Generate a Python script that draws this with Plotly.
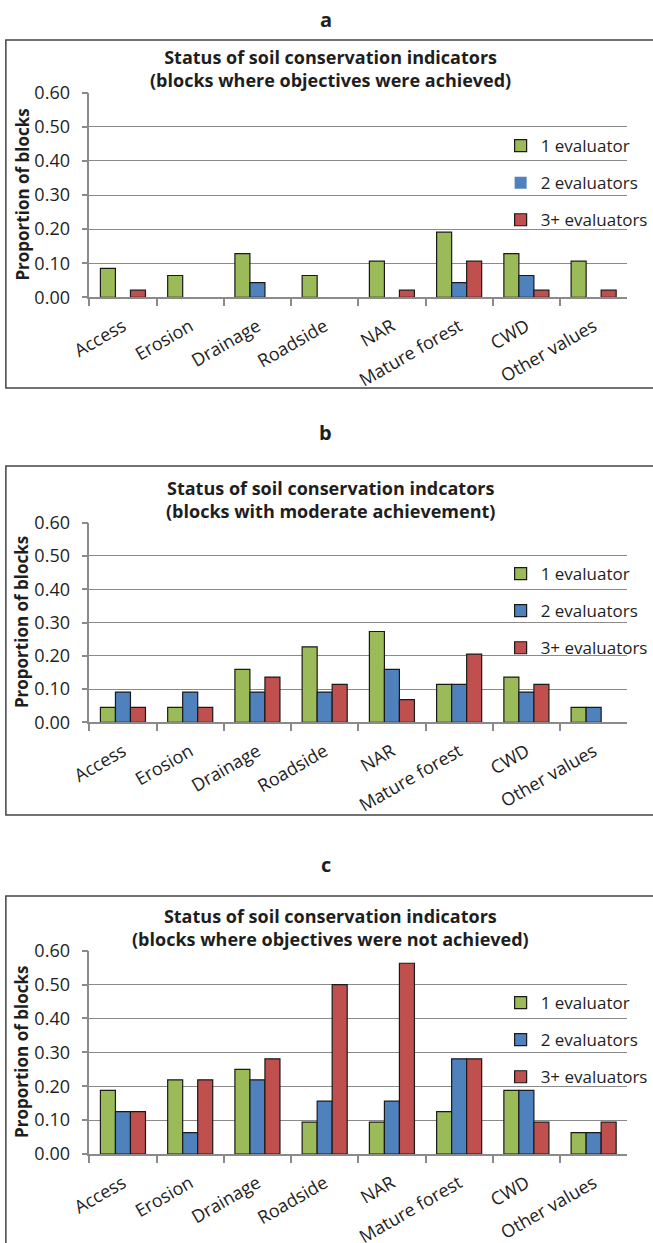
import plotly.graph_objects as go

# Indicator categories shared by all three panels
categories = ["Access", "Erosion", "Drainage", "Roadside", "NAR",
              "Mature forest", "CWD", "Other values"]
series_names = ["1 evaluator", "2 evaluators", "3+ evaluators"]
series_colors = ["#9BBB59", "#4F81BD", "#C0504D"]

# a: blocks where objectives were achieved
a_one = [0.085, 0.064, 0.128, 0.064, 0.106, 0.191, 0.128, 0.106]
a_two = [0.0, 0.0, 0.043, 0.0, 0.0, 0.043, 0.064, 0.0]
a_three = [0.021, 0.0, 0.0, 0.0, 0.021, 0.106, 0.021, 0.021]

# b: blocks with moderate achievement
b_one = [0.045, 0.045, 0.159, 0.227, 0.273, 0.114, 0.136, 0.045]
b_two = [0.091, 0.091, 0.091, 0.091, 0.159, 0.114, 0.091, 0.045]
b_three = [0.045, 0.045, 0.136, 0.114, 0.068, 0.205, 0.114, 0.0]

# c: blocks where objectives were not achieved
c_one = [0.188, 0.219, 0.250, 0.094, 0.094, 0.125, 0.188, 0.063]
c_two = [0.125, 0.063, 0.219, 0.156, 0.156, 0.281, 0.188, 0.063]
c_three = [0.125, 0.219, 0.281, 0.500, 0.563, 0.281, 0.094, 0.094]

panel_letters = ["a", "b", "c"]
panel_titles = [
    "Status of soil conservation indicators<br>(blocks where objectives were achieved)",
    "Status of soil conservation indcators<br>(blocks with moderate achievement)",
    "Status of soil conservation indicators<br>(blocks where objectives were not achieved)",
]
panel_values = [
    [a_one, a_two, a_three],
    [b_one, b_two, b_three],
    [c_one, c_two, c_three],
]
y_ticks = [0.0, 0.1, 0.2, 0.3, 0.4, 0.5, 0.6]

W, H = 653, 1243
FONT = "Open Sans"
TXT = "#1e1e1e"
GRID = "#8a8a8a"


def px_x(v):
    return v / W


def px_y(v):
    return 1 - v / H


# pixel layout of each panel
panels = [
    dict(top=92.7, bottom=297.3, box_top=40, box_bottom=388, letter=19, title=69, leg=128),
    dict(top=522.7, bottom=722.3, box_top=466, box_bottom=815, letter=432, title=500, leg=556),
    dict(top=950.7, bottom=1154.0, box_top=896, box_bottom=1300, letter=864, title=927, leg=985),
]
plot_left, plot_right = 91, 639

fig = go.Figure()
shapes = []
annotations = []

for i, p in enumerate(panels):
    n = i + 1
    xa = "x" if n == 1 else f"x{n}"
    ya = "y" if n == 1 else f"y{n}"
    leg = "legend" if n == 1 else f"legend{n}"
    for s, (name, color) in enumerate(zip(series_names, series_colors)):
        vals = panel_values[i][s]
        # no outline on empty bars so they leave no mark on the baseline
        outline = [1.2 if v > 0 else 0 for v in vals]
        fig.add_trace(go.Bar(
            x=categories, y=vals, name=name,
            marker=dict(color=color, line=dict(color="#1a1a1a", width=outline)),
            xaxis=xa, yaxis=ya, legend=leg, legendgroup=f"{n}-{s}",
            hoverinfo="x+y+name",
        ))

    xkey = "xaxis" if n == 1 else f"xaxis{n}"
    ykey = "yaxis" if n == 1 else f"yaxis{n}"
    fig.update_layout({
        xkey: dict(
            domain=[px_x(plot_left), px_x(plot_right)],
            anchor=ya, type="category", tickson="boundaries",
            ticks="outside", ticklen=7, tickcolor=GRID, tickwidth=1.5,
            showline=True, linecolor=GRID, linewidth=1.5,
            showgrid=False, tickangle=-30, automargin=False,
            tickfont=dict(family=FONT, size=18, color=TXT),
            ticklabelstandoff=10,
        ),
        ykey: dict(
            domain=[px_y(p["bottom"]), px_y(p["top"])],
            anchor=xa, range=[0, 0.6], tickvals=y_ticks, tickformat=".2f",
            ticks="outside", ticklen=6, tickcolor=GRID, tickwidth=1.5,
            showline=True, linecolor=GRID, linewidth=1.5,
            showgrid=True, gridcolor=GRID, gridwidth=1.3, zeroline=False,
            automargin=False,
            tickfont=dict(family=FONT, size=18, color=TXT),
            ticklabelstandoff=8,
        ),
        leg: dict(
            x=px_x(510), y=px_y(p["leg"]), xanchor="left", yanchor="top",
            bgcolor="rgba(0,0,0,0)", borderwidth=0,
            font=dict(family=FONT, size=17, color=TXT),
            traceorder="grouped", tracegroupgap=12, itemwidth=30,
        ),
    })

    # chart frame
    shapes.append(dict(
        type="rect", xref="paper", yref="paper",
        x0=px_x(6), x1=px_x(720), y0=px_y(p["box_bottom"]), y1=px_y(p["box_top"]),
        line=dict(color="#444444", width=1.5), fillcolor="rgba(0,0,0,0)", layer="below",
    ))
    # panel letter
    annotations.append(dict(
        text=f"<b>{panel_letters[i]}</b>", xref="paper", yref="paper",
        x=px_x(332), y=px_y(p["letter"]), showarrow=False,
        xanchor="center", yanchor="middle",
        font=dict(family=FONT, size=20, color=TXT),
    ))
    # chart title
    annotations.append(dict(
        text=f"<b>{panel_titles[i]}</b>", xref="paper", yref="paper",
        x=px_x(337), y=px_y(p["title"]), showarrow=False,
        xanchor="center", yanchor="middle",
        font=dict(family=FONT, size=18, color=TXT),
    ))
    # y-axis title
    annotations.append(dict(
        text="<b>Proportion of blocks</b>", xref="paper", yref="paper",
        x=px_x(22), y=px_y((p["top"] + p["bottom"]) / 2), showarrow=False,
        textangle=-90, xanchor="center", yanchor="middle",
        font=dict(family=FONT, size=17, color=TXT),
    ))

fig.update_layout(
    width=W, height=H,
    margin=dict(l=0, r=0, t=0, b=0),
    paper_bgcolor="white", plot_bgcolor="white",
    barmode="group", bargap=0.33, bargroupgap=0,
    showlegend=True,
    shapes=shapes, annotations=annotations,
    font=dict(family=FONT, color=TXT),
)

fig.write_html("out.html")
